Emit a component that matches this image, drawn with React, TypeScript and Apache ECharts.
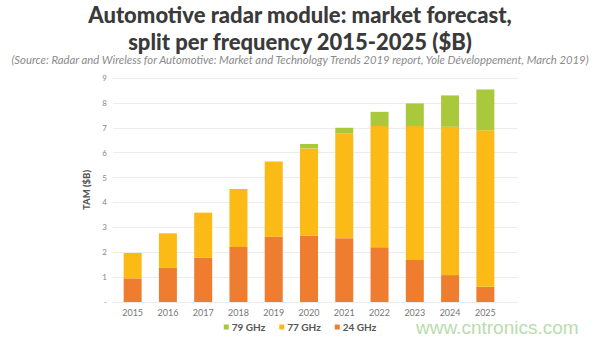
import React, { useEffect, useRef } from "react";
import * as echarts from "echarts";

const years = ["2015", "2016", "2017", "2018", "2019", "2020", "2021", "2022", "2023", "2024", "2025"];
const ghz24 = [0.95, 1.37, 1.78, 2.21, 2.62, 2.66, 2.56, 2.2, 1.69, 1.08, 0.61];
const ghz77 = [1.02, 1.39, 1.81, 2.33, 3.03, 3.51, 4.22, 4.87, 5.38, 5.96, 6.29];
const ghz79 = [null, null, null, null, null, 0.18, 0.22, 0.57, 0.91, 1.26, 1.64];
const yTicks = [0, 1, 2, 3, 4, 5, 6, 7, 8, 9];

const titleLine1 = "Automotive radar module: market forecast,";
const titleLine2 = "split per frequency 2015-2025 ($B)";
const subtitle =
  "(Source: Radar and Wireless for Automotive: Market and Technology Trends 2019 report, Yole Développement, March 2019)";

export default function App() {
  const ref = useRef<HTMLDivElement>(null);
  useEffect(() => {
    const chart = echarts.init(ref.current!, null, { renderer: "svg" });
    const font = "Lato, 'Open Sans', sans-serif";
    const titleStyle = { fontFamily: font, fontWeight: 900, fontSize: 22, color: "#3a3a3a", lineHeight: 24 };
    chart.setOption({
      animation: false,
      backgroundColor: "#ffffff",
      textStyle: { fontFamily: font },
      title: [
        { text: titleLine1, left: "center", top: 2, padding: 0, textStyle: titleStyle },
        { text: titleLine2, left: "center", top: 29, padding: 0, textStyle: titleStyle },
        {
          text: subtitle,
          left: "center",
          top: 54,
          padding: 0,
          textStyle: { fontFamily: font, fontStyle: "italic", fontWeight: "normal", fontSize: 11.3, color: "#8a8a8a" },
        },
      ],
      legend: {
        bottom: 3,
        left: "center",
        icon: "rect",
        itemWidth: 5,
        itemHeight: 5,
        itemGap: 14,
        data: ["79 GHz", "77 GHz", "24 GHz"],
        textStyle: { fontFamily: font, fontWeight: "bold", fontSize: 10, color: "#555", padding: [0, 0, 0, -2] },
      },
      grid: [
        { left: 115, right: 97, top: 78, bottom: 38 },
        { left: 113, right: 82, top: 78, bottom: 38 },
      ],
      xAxis: [
        {
          type: "category",
          gridIndex: 0,
          data: years,
          axisLine: { show: false },
          axisTick: { show: false },
          axisLabel: { fontFamily: font, fontSize: 9, color: "#777", margin: 6 },
        },
        { type: "value", gridIndex: 1, show: false, min: 0, max: 1 },
      ],
      yAxis: [
        { type: "value", gridIndex: 0, min: 0, max: 9, interval: 1, show: false },
        {
          type: "value",
          gridIndex: 1,
          min: 0,
          max: 9,
          interval: 1,
          name: "TAM ($B)",
          nameLocation: "middle",
          nameGap: 22,
          nameTextStyle: { fontFamily: font, fontWeight: 900, fontSize: 9.5, color: "#555" },
          axisLine: { show: false },
          axisTick: { show: false },
          axisLabel: {
            fontFamily: font,
            fontSize: 8,
            color: "#888",
            margin: 6,
            formatter: (v: number) => (v === 0 ? "-" : String(v)),
          },
          splitLine: { lineStyle: { color: "#ececec", width: 1 } },
        },
      ],
      series: [
        {
          name: "24 GHz",
          type: "bar",
          stack: "t",
          xAxisIndex: 0,
          yAxisIndex: 0,
          barWidth: 18,
          data: ghz24,
          itemStyle: { color: "#ee7d30" },
        },
        {
          name: "77 GHz",
          type: "bar",
          stack: "t",
          xAxisIndex: 0,
          yAxisIndex: 0,
          barWidth: 18,
          data: ghz77,
          itemStyle: { color: "#fbba16" },
        },
        {
          name: "79 GHz",
          type: "bar",
          stack: "t",
          xAxisIndex: 0,
          yAxisIndex: 0,
          barWidth: 18,
          data: ghz79,
          itemStyle: { color: "#a9c83c" },
        },
      ],
      graphic: [
        {
          type: "text",
          left: 416,
          top: 318,
          style: {
            text: "www.cntronics.com",
            fontFamily: "'Liberation Sans', Arial, sans-serif",
            fontSize: 19,
            fill: "#b9dcae",
          },
        },
      ],
    });
    return () => chart.dispose();
  }, []);
  return <div ref={ref} style={{ width: 600, height: 340, position: "absolute", left: 0, top: 0 }} />;
}
